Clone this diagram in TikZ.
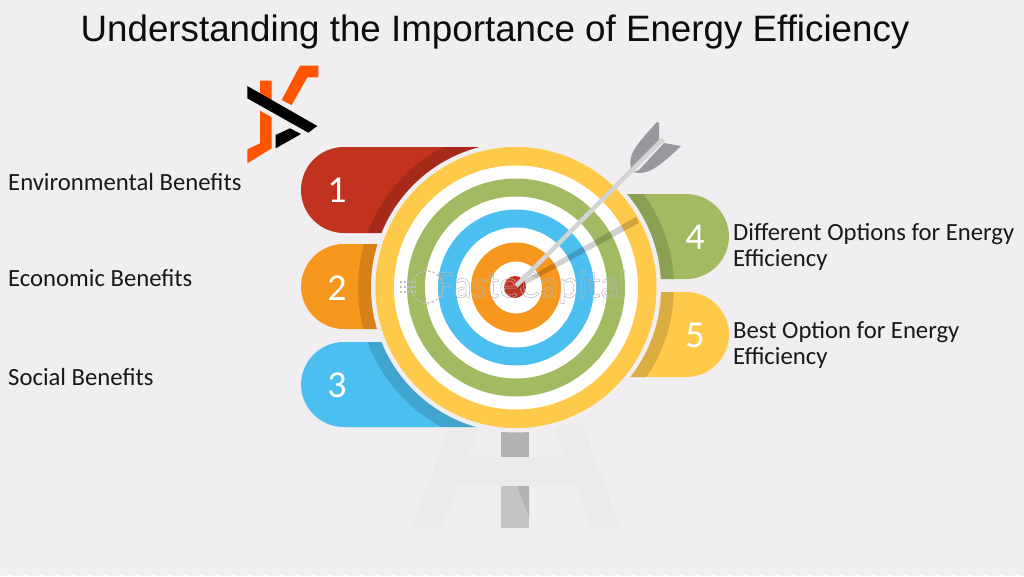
\documentclass[tikz,border=0pt]{standalone}
\usepackage{fontspec}
\setmainfont{Carlito}
\newfontfamily\titlefont{Liberation Sans}
\definecolor{pagebg}{HTML}{F0EEF0}
\definecolor{standpale}{HTML}{ECEBEC}
\definecolor{ringyellow}{HTML}{FFC94A}
\definecolor{ringgreen}{HTML}{A2BB63}
\definecolor{ringblue}{HTML}{4BBFF0}
\definecolor{ringorange}{HTML}{F8971D}
\definecolor{ringred}{HTML}{C1321F}
\definecolor{logoorange}{HTML}{FF5500}
\definecolor{fletch}{HTML}{97999C}
\definecolor{shaft}{HTML}{D2D3D4}
\newcommand\pillL[3]{% top, bottom, colour
\fill[#3] (516,#1) {[rounded corners=42.9pt] -- (301,#1) -- (301,#2)} -- (516,#2) -- cycle;
\begin{scope}
\clip (516,#1) {[rounded corners=42.9pt] -- (301,#1) -- (301,#2)} -- (516,#2) -- cycle;
\fill[black,opacity=0.14] (516,287.5) circle (158);
\end{scope}}
\newcommand\pillR[3]{%
\fill[#3] (516,#1) {[rounded corners=42.9pt] -- (729,#1) -- (729,#2)} -- (516,#2) -- cycle;
\begin{scope}
\clip (516,#1) {[rounded corners=42.9pt] -- (729,#1) -- (729,#2)} -- (516,#2) -- cycle;
\fill[black,opacity=0.14] (516,287.5) circle (158);
\end{scope}}
\begin{document}
\begin{tikzpicture}[x=1pt,y=-1pt,
numlabel/.style = {text=white, font=\fontsize{38}{38}\selectfont, inner sep=0pt},
sidelabel/.style = {anchor=west, align=left, inner sep=0pt, text=black!90, font=\fontsize{24.7}{26}\selectfont}
]
\useasboundingbox (0,0) rectangle (1024,576);
\fill[pagebg] (0,0) rectangle (1024,576);
\draw[white, line width=1.5pt, dash pattern=on 5pt off 11pt] (7,575.3) -- (1024,575.3);

% stand
\fill[standpale] (412,528) -- (450,425) -- (480,425) -- (442,528) -- cycle;
\fill[standpale] (591,528) -- (553,425) -- (583,425) -- (620,528) -- cycle;
\fill[standpale] (455,457) rectangle (577,486);
\fill[black!30] (501,431) rectangle (529,457);
\fill[black!23] (501,486) rectangle (529,528);
\fill[black!30] (517,486) -- (529,486) -- (529,517) -- cycle;

% tabs
\pillL{147}{233}{ringred}
\pillL{244}{329}{ringorange}
\pillL{342}{427}{ringblue}
\pillR{194}{279}{ringgreen}
\pillR{292}{377}{ringyellow}

% target
\fill[pagebg] (516,287.5) circle (145);
\fill[ringyellow] (516,287.5) circle (140.5);
\fill[white] (516,287.5) circle (122);
\fill[ringgreen] (516,287.5) circle (109);
\fill[white] (516,287.5) circle (91);
\fill[ringblue] (516,287.5) circle (78);
\fill[white] (516,287.5) circle (60);
\fill[ringorange] (516,287.5) circle (45);
\fill[white] (516,287.5) circle (26);
\fill[ringred] (515,287) circle (11);

% watermark
\draw[black!25, line width=1.2pt, dash pattern=on 2.5pt off 2pt] (427,287) circle (16);
\draw[black!25, line width=1.2pt, dash pattern=on 2pt off 1.5pt] (400,282) -- (416,282) (400,287) -- (416,287) (400,292) -- (416,292);
\node (mark) [text=black!28, font=\fontsize{39}{39}\selectfont, inner sep=0pt, anchor=west] at (436,287) {\special{pdf:code 1 Tr 0.5 w}FasteCapital\special{pdf:code 0 Tr 1 w}};

% arrow
\fill[black,opacity=0.18] (515,285) -- (636,217) -- (639,223) -- (517,289) -- cycle;
\fill[fletch] (631,169) .. controls (628,155) and (634,147) .. (657,122) -- (659,123) -- (659,143) -- (636,168) -- cycle;
\fill[fletch] (633,172) .. controls (645,175) and (654,172) .. (681,146) -- (664,143) -- (639,170) -- cycle;
\draw[shaft, line width=4.5pt] (516,286) -- (663,139);

% logo
\begin{scope}[shift={(230,60)},x=0.3333pt,y=-0.3333pt]
\fill[logoorange] (90,62) -- (125,62) -- (125,122) -- (90,102) -- cycle;
\fill[logoorange] (90,152) -- (125,172) -- (125,265) -- (52,310) -- (52,268) -- (90,250) -- cycle;
\fill[logoorange] (155,120) -- (210,17) -- (265,17) -- (265,52) -- (232,52) -- (185,135) -- cycle;
\fill[black] (52,78) -- (262,198) -- (235,218) -- (52,115) -- cycle;
\fill[black] (137,225) -- (180,205) -- (213,222) -- (137,265) -- cycle;
\end{scope}

\node (title) [font=\titlefont\fontsize{36.75}{37}\selectfont, text=black!95] at (495,32) {Understanding the Importance of Energy Efficiency};

\node (n1) [numlabel] at (337,190) {1};
\node (n2) [numlabel] at (337,288) {2};
\node (n3) [numlabel] at (337,385) {3};
\node (n4) [numlabel] at (695,237) {4};
\node (n5) [numlabel] at (695,335) {5};

\node (env) [sidelabel] at (8,182) {Environmental Benefits};
\node (eco) [sidelabel] at (8,278) {Economic Benefits};
\node (soc) [sidelabel] at (8,377) {Social Benefits};
\node (opt) [sidelabel] at (733,246.5) {Different Options for Energy\\Efficiency};
\node (best) [sidelabel] at (733,344.5) {Best Option for Energy\\Efficiency};
\end{tikzpicture}
\end{document}
